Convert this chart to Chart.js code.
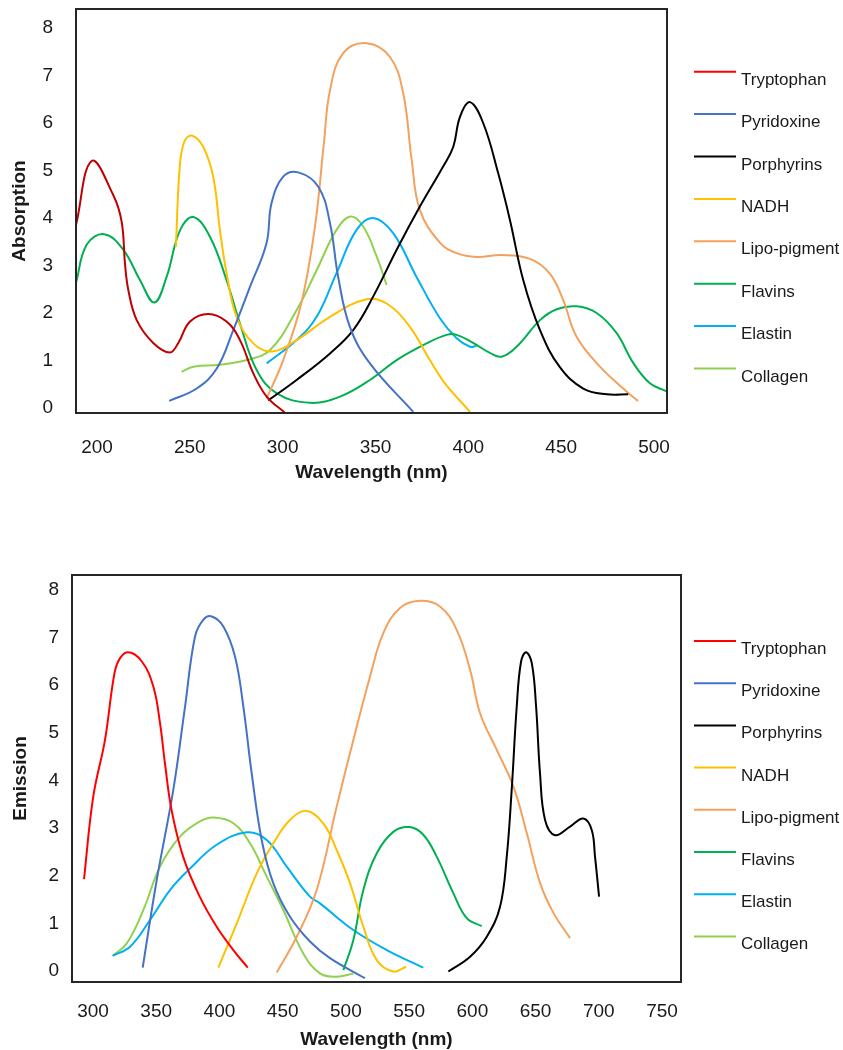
<!DOCTYPE html>
<html>
<head>
<meta charset="utf-8">
<script src="https://cdn.jsdelivr.net/npm/chart.js@4.4.1/dist/chart.umd.min.js"></script>
<style>
  html, body { margin: 0; padding: 0; background: #fff; width: 843px; height: 1050px; overflow: hidden; }
  #wrap1 { position: absolute; left: 0; top: 0; width: 843px; height: 490px; }
  #wrap2 { position: absolute; left: 0; top: 540px; width: 843px; height: 510px; }
</style>
</head>
<body>
<div id="wrap1"><canvas id="c1" width="843" height="490"></canvas></div>
<div id="wrap2"><canvas id="c2" width="843" height="510"></canvas></div>
<script>
// ---------- shared ----------
const seriesNames = ['Tryptophan','Pyridoxine','Porphyrins','NADH','Lipo-pigment','Flavins','Elastin','Collagen'];
const seriesColors = ['#FF0000','#4472C4','#000000','#FFC000','#F4A15D','#00B050','#00B0F0','#92D050'];

// ---------- absorption (top) ----------
const absXTicks = [200,250,300,350,400,450,500];
const absYTicks = [0,1,2,3,4,5,6,7,8];

const absTryptophanX = [188.7,197.1,208.8,213.3,215.1,216.9,221.4,230.3,239.3,243.8,250.1,259.9,269.8,277.0,284.2,291.4,301.2];
const absTryptophanY = [3.85,5.20,4.48,3.92,3.03,2.48,1.85,1.37,1.17,1.37,1.82,1.98,1.82,1.43,0.73,0.24,-0.10];

const absPyridoxineX = [238.9,253.7,264.5,273.4,282.4,291.3,294.0,300.3,308.4,319.2,325.5,329.9,336.2,347.0,370.3];
const absPyridoxineY = [0.15,0.41,0.83,1.64,2.55,3.47,4.31,4.87,4.96,4.66,3.89,2.76,1.71,0.94,-0.08];

const absPorphyrinsX = [292.2,307.5,325.5,338.0,348.8,361.4,373.9,386.5,391.9,395.5,400.9,408.0,416.1,422.4,429.6,438.6,449.3,461.9,474.5,486.1];
const absPorphyrinsY = [0.16,0.59,1.15,1.64,2.35,3.33,4.24,5.09,5.50,6.13,6.44,6.00,4.94,3.96,2.69,1.64,0.86,0.41,0.29,0.29];

const absNADHX = [242.5,244.7,247.4,251.5,257.2,262.6,266.2,269.8,275.2,284.2,294.1,307.5,325.5,345.2,356.0,368.5,379.3,387.4,400.9];
const absNADHY = [3.39,5.14,5.64,5.73,5.50,4.87,3.75,2.84,1.92,1.36,1.19,1.43,1.92,2.29,2.20,1.71,1.01,0.52,-0.08];

const absLipoX = [291.4,300.3,310.0,317.4,322.2,325.5,332.6,345.2,357.8,364.9,369.5,373.9,384.7,393.7,404.5,417.9,433.2,443.9,451.1,458.3,470.9,485.2,491.4];
const absLipoY = [0.20,1.01,2.20,3.82,5.57,6.69,7.47,7.68,7.39,6.63,5.22,4.17,3.48,3.26,3.18,3.22,3.14,2.83,2.27,1.50,0.87,0.35,0.15];

const absFlavinsX = [188.7,194.5,203.9,214.2,223.2,230.9,237.5,244.7,251.9,260.9,269.8,277.0,286.0,296.8,314.7,330.9,347.0,361.4,377.5,388.3,393.7,402.6,411.6,417.9,426.0,438.6,447.6,458.3,469.1,479.8,488.8,497.8,506.8];
const absFlavinsY = [2.64,3.44,3.66,3.33,2.69,2.22,2.76,3.74,4.02,3.60,2.69,1.78,0.80,0.31,0.11,0.24,0.59,1.01,1.36,1.54,1.54,1.37,1.16,1.08,1.29,1.85,2.08,2.14,2.00,1.58,0.95,0.52,0.35];

const absElastinX = [291.4,307.5,318.3,329.0,339.8,348.8,359.5,372.1,384.7,393.7,400.9,404.5];
const absElastinY = [0.94,1.43,1.92,2.84,3.75,4.00,3.68,2.76,1.89,1.47,1.29,1.31];

const absCollagenX = [245.6,251.9,266.2,280.6,293.2,307.5,318.3,329.0,336.6,343.4,350.6,356.0];
const absCollagenY = [0.76,0.87,0.91,1.01,1.22,2.06,2.90,3.75,4.03,3.82,3.19,2.59];

// ---------- emission (bottom) ----------
const emXTicks = [300,350,400,450,500,550,600,650,700,750];
const emYTicks = [0,1,2,3,4,5,6,7,8];

const emTryptophanX = [292.9,300.2,309.5,316.1,320.0,327.4,338.5,347.7,353.0,356.9,362.2,371.4,384.6,397.8,411.0,422.4];
const emTryptophanY = [1.93,3.66,4.85,6.11,6.50,6.69,6.50,5.97,5.20,4.36,3.37,2.39,1.55,0.93,0.44,0.07];

const emPyridoxineX = [339.3,350.4,363.5,372.8,380.7,387.2,393.9,403.1,412.3,418.9,425.5,433.4,442.6,455.8,471.6,487.4,515.1];
const emPyridoxineY = [0.07,1.91,3.80,5.55,7.02,7.37,7.44,7.23,6.60,5.55,4.15,2.75,1.84,1.14,0.62,0.27,-0.15];

const emPorphyrinsX = [581.0,598.2,611.4,621.9,627.2,631.1,635.1,638.5,642.5,647.0,650.4,653.5,657.5,665.4,677.3,687.8,694.4,697.0,700.2];
const emPorphyrinsY = [-0.01,0.30,0.72,1.35,2.40,3.80,5.55,6.49,6.69,6.46,5.55,4.15,3.17,2.85,3.03,3.20,2.96,2.40,1.56];

const emNADHX = [399.1,413.7,429.5,442.6,455.8,469.0,482.1,492.7,503.3,513.8,524.4,537.5,547.6];
const emNADHY = [0.07,1.00,2.05,2.68,3.17,3.36,3.10,2.54,1.84,0.93,0.23,-0.01,0.09];

const emLipoX = [445.3,461.1,476.9,492.7,505.9,519.1,529.6,542.8,558.6,574.4,587.6,598.2,606.1,619.3,632.5,643.1,653.5,664.1,677.3];
const emLipoY = [-0.03,0.72,1.70,3.45,4.85,6.18,7.09,7.62,7.77,7.65,7.16,6.32,5.41,4.64,3.87,2.89,1.85,1.22,0.69];

const emFlavinsX = [498.0,505.9,513.8,524.4,537.5,550.2,561.2,571.8,585.0,595.6,607.4];
const emFlavinsY = [0.02,0.65,1.70,2.47,2.92,3.02,2.86,2.40,1.63,1.11,0.94];

const emElastinX = [315.6,329.3,345.1,360.9,376.7,397.8,421.6,437.4,453.2,471.6,479.5,505.9,532.3,561.2];
const emElastinY = [0.32,0.51,1.07,1.70,2.15,2.65,2.91,2.75,2.19,1.56,1.42,0.86,0.44,0.07];

const emCollagenX = [315.6,326.7,339.8,353.0,368.8,384.6,395.7,411.0,424.2,437.4,450.5,466.3,479.5,492.7,505.9];
const emCollagenY = [0.32,0.58,1.28,2.19,2.82,3.14,3.22,3.10,2.68,1.98,1.28,0.37,-0.05,-0.12,-0.05];

// ---------- build ----------
const FONT = "'Liberation Sans', Arial, Helvetica, sans-serif";
const TEXT = '#1a1a1a';

function zip(xs, ys) { return xs.map((x, i) => ({ x: x, y: ys[i] })); }

function makeDatasets(pairs, lineColors) {
  return pairs.map((p, i) => ({
    label: seriesNames[i],
    data: zip(p[0], p[1]),
    borderColor: lineColors[i],
    backgroundColor: seriesColors[i],
    legendColor: seriesColors[i],
    borderWidth: 2,
    pointRadius: 0,
    pointHoverRadius: 0,
    showLine: true,
    tension: 0.4,
    fill: false
  }));
}

const frameLegendPlugin = {
  id: 'frameLegend',
  afterDraw(chart, args, opts) {
    const ctx = chart.ctx;
    const a = chart.chartArea;
    ctx.save();
    ctx.strokeStyle = '#262626';
    ctx.lineWidth = 2;
    ctx.strokeRect(a.left, a.top, a.right - a.left, a.bottom - a.top);
    ctx.font = '17px ' + FONT;
    ctx.textBaseline = 'alphabetic';
    ctx.textAlign = 'left';
    chart.data.datasets.forEach((ds, i) => {
      const y = opts.y0 + i * opts.dy;
      ctx.strokeStyle = ds.legendColor;
      ctx.lineWidth = 2;
      ctx.beginPath();
      ctx.moveTo(opts.x0, y);
      ctx.lineTo(opts.x0 + 42, y);
      ctx.stroke();
      ctx.fillStyle = TEXT;
      ctx.fillText(ds.label, opts.x0 + 47, y + 13);
    });
    ctx.restore();
  }
};

function zeroPad(s) { s.paddingTop = 0; s.paddingBottom = 0; s.paddingLeft = 0; s.paddingRight = 0; }

function makeChart(canvasId, datasets, cfg) {
  return new Chart(document.getElementById(canvasId), {
    type: 'scatter',
    data: { datasets: datasets },
    plugins: [frameLegendPlugin],
    options: {
      responsive: false,
      animation: false,
      events: [],
      layout: { padding: cfg.padding },
      plugins: {
        legend: { display: false },
        tooltip: { enabled: false },
        frameLegend: cfg.legend
      },
      scales: {
        x: {
          type: 'linear',
          min: cfg.xMin, max: cfg.xMax,
          afterBuildTicks: s => { s.ticks = cfg.xTicks.map(v => ({ value: v })); },
          afterFit: s => { s.height = cfg.xHeight; zeroPad(s); },
          grid: { display: false, drawTicks: false },
          border: { display: false },
          ticks: { font: { family: FONT, size: 19 }, color: TEXT, padding: cfg.xTickPad, maxRotation: 0, autoSkip: false },
          title: { display: true, text: 'Wavelength (nm)', color: TEXT,
                   font: { family: FONT, size: 19, weight: 'bold', lineHeight: 1 },
                   padding: { top: 0, bottom: cfg.xTitlePad } }
        },
        y: {
          type: 'linear',
          min: cfg.yMin, max: cfg.yMax,
          afterBuildTicks: s => { s.ticks = cfg.yTicks.map(v => ({ value: v })); },
          afterFit: s => { s.width = cfg.yWidth; zeroPad(s); },
          grid: { display: false, drawTicks: false },
          border: { display: false },
          ticks: { font: { family: FONT, size: 19 }, color: TEXT, padding: cfg.yTickPad },
          title: { display: true, text: cfg.yTitle, color: TEXT,
                   font: { family: FONT, size: 19, weight: 'bold', lineHeight: 1 },
                   padding: { top: cfg.yTitlePad, bottom: 0 } }
        }
      }
    }
  });
}

const absLineColors = ['#C00000'].concat(seriesColors.slice(1));
makeChart('c1', makeDatasets([
  [absTryptophanX, absTryptophanY],
  [absPyridoxineX, absPyridoxineY],
  [absPorphyrinsX, absPorphyrinsY],
  [absNADHX, absNADHY],
  [absLipoX, absLipoY],
  [absFlavinsX, absFlavinsY],
  [absElastinX, absElastinY],
  [absCollagenX, absCollagenY]
], absLineColors), {
  padding: { top: 9, right: 176, left: 0, bottom: 0 },
  xMin: 188.7, xMax: 507, xTicks: absXTicks, xHeight: 77, xTickPad: 23, xTitlePad: 7.5,
  yMin: -0.105, yMax: 8.4, yTicks: absYTicks, yWidth: 76, yTickPad: 23, yTitlePad: 10.5,
  yTitle: 'Absorption',
  legend: { x0: 694, y0: 71.7, dy: 42.4 }
});

makeChart('c2', makeDatasets([
  [emTryptophanX, emTryptophanY],
  [emPyridoxineX, emPyridoxineY],
  [emPorphyrinsX, emPorphyrinsY],
  [emNADHX, emNADHY],
  [emLipoX, emLipoY],
  [emFlavinsX, emFlavinsY],
  [emElastinX, emElastinY],
  [emCollagenX, emCollagenY]
], seriesColors), {
  padding: { top: 35, right: 162, left: 0, bottom: 0 },
  xMin: 283.4, xMax: 765, xTicks: emXTicks, xHeight: 68, xTickPad: 18, xTitlePad: 0.5,
  yMin: -0.23, yMax: 8.31, yTicks: emYTicks, yWidth: 72, yTickPad: 13, yTitlePad: 11.5,
  yTitle: 'Emission',
  legend: { x0: 694, y0: 101, dy: 42.2 }
});
</script>
</body>
</html>
